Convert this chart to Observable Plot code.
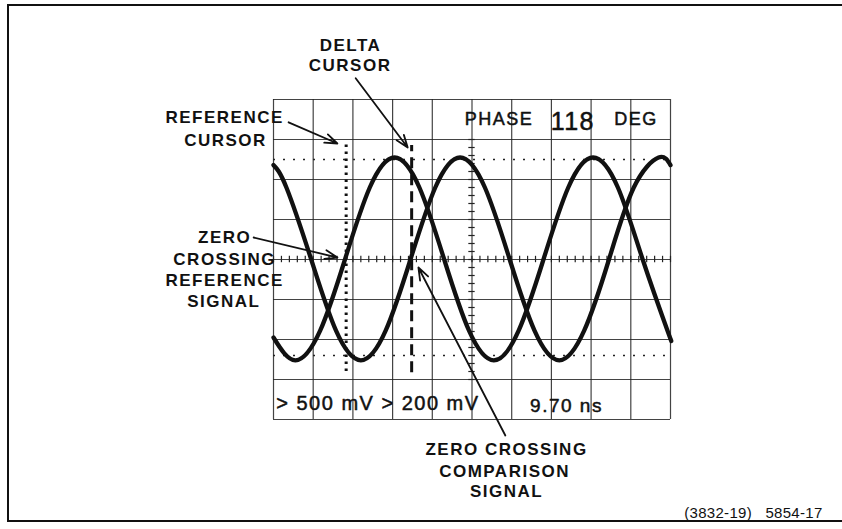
<!DOCTYPE html>
<html><head><meta charset="utf-8">
<script src="https://cdn.jsdelivr.net/npm/d3@7"></script>
<script src="https://cdn.jsdelivr.net/npm/@observablehq/plot@0.6"></script>
<style>
html,body{margin:0;padding:0;background:#fff;overflow:hidden}
#wrap{position:relative;width:842px;height:529px}
#border{position:absolute;left:7px;top:4px;width:840px;height:514px;border-left:2px solid #111;border-top:2px solid #111;border-bottom:2px solid #111}
#chart{position:absolute;left:0;top:0}
#chart svg text{letter-spacing:1.5px}
</style></head><body>
<div id="wrap"><div id="border"></div><div id="chart"></div></div>
<script>
// graticule divisions (10 x 8)
const xDivisions = [0,1,2,3,4,5,6,7,8,9,10];
const yDivisions = [-4,-3,-2,-1,0,1,2,3,4];
// reference signal trace (time div, volts div)
const refTime  = [0, 0.55, 1.175, 1.80, 2.425, 3.05, 3.675, 4.30, 4.925, 5.55, 6.175, 6.80, 7.425, 8.05, 8.675, 9.30, 9.925, 10];
const refVolts = [-1.95, -2.52, -1.78, 0, 1.80, 2.55, 1.80, 0, -1.78, -2.52, -1.78, 0, 1.80, 2.55, 1.80, 0, -1.78, -1.98];
// comparison signal trace
const cmpTime  = [0, 0.325, 0.95, 1.575, 2.20, 2.825, 3.45, 4.075, 4.70, 5.325, 5.95, 6.575, 7.20, 7.825, 8.45, 9.075, 9.70, 10];
const cmpVolts = [2.36, 1.80, 0, -1.78, -2.52, -1.78, 0, 1.80, 2.55, 1.80, 0, -1.78, -2.52, -1.78, 0, 1.80, 2.55, 2.36];
// cursors and level lines
const refCursor = 1.83, deltaCursor = 3.48;
const levelLines = [2.5, -2.4];
// readouts
const phaseLabel = "PHASE", phaseValue = "118", phaseUnit = "DEG";
const scaleReadout = "> 500 mV > 200 mV";
const timeReadout = "9.70 ns";
const caption = "(3832-19)\u00a0\u00a0\u00a05854-17";
// callout labels (x, y in divisions) and arrows
const calloutText = ["DELTA","CURSOR","REFERENCE","CURSOR","ZERO","CROSSING","REFERENCE","SIGNAL","ZERO CROSSING","COMPARISON","SIGNAL"];
const calloutX = [1.94, 1.93, -1.23, -1.21, -1.23, -1.23, -1.23, -1.25, 5.87, 5.82, 5.87];
const calloutY = [5.36, 4.84, 3.56, 2.98, 0.56, 0.01, -0.525, -1.04, -4.76, -5.29, -5.81];
const arrowX1 = [2.07, 0.38, -0.50, 5.84];
const arrowY1 = [4.53, 3.43, 0.55, -4.40];
const arrowX2 = [3.38, 1.61, 1.61, 3.65];
const arrowY2 = [2.80, 2.90, 0.05, -0.20];

const refData = refTime.map((t, i) => ({t, v: refVolts[i]}));
const cmpData = cmpTime.map((t, i) => ({t, v: cmpVolts[i]}));
const callouts = calloutText.map((text, i) => ({text, x: calloutX[i], y: calloutY[i]}));
const arrows = arrowX1.map((x1, i) => ({x1, y1: arrowY1[i], x2: arrowX2[i], y2: arrowY2[i]}));
const minorX = d3.range(0, 10.001, 0.2);
const minorY = d3.range(-3, 3.001, 0.2);
const ink = "#111";
const readoutStyle = {fill: ink, stroke: ink, strokeWidth: 0.5};

const plot = Plot.plot({
  width: 842, height: 529,
  marginLeft: 273, marginRight: 172, marginTop: 99, marginBottom: 110,
  x: {domain: [0, 10], axis: null},
  y: {domain: [-4, 4], axis: null},
  style: {fontFamily: "'Liberation Sans', Arial, sans-serif", background: "transparent", color: ink},
  marks: [
    Plot.ruleX(xDivisions, {stroke: "#222", strokeWidth: 1.2, strokeOpacity: 0.85}),
    Plot.ruleY(yDivisions, {stroke: "#222", strokeWidth: 1.2, strokeOpacity: 0.85}),
    Plot.ruleX(minorX, {y1: -0.08, y2: 0.08, stroke: "#222", strokeWidth: 1.2}),
    Plot.ruleY(minorY, {x1: 4.92, x2: 5.08, stroke: "#222", strokeWidth: 1.2}),
    Plot.ruleY(levelLines, {stroke: "#222", strokeWidth: 1.5, strokeDasharray: "2,8"}),
    Plot.ruleX([refCursor], {y1: -2.8, y2: 2.9, stroke: ink, strokeWidth: 3, strokeDasharray: "2.5,4.5"}),
    Plot.ruleX([deltaCursor], {y1: -2.83, y2: 2.85, stroke: ink, strokeWidth: 3, strokeDasharray: "11,6"}),
    Plot.line(refData, {x: "t", y: "v", curve: "natural", stroke: ink, strokeWidth: 4.3}),
    Plot.line(cmpData, {x: "t", y: "v", curve: "natural", stroke: ink, strokeWidth: 4.3}),
    Plot.arrow(arrows, {x1: "x1", y1: "y1", x2: "x2", y2: "y2", stroke: ink, strokeWidth: 1.8, headLength: 11, headAngle: 40}),
    Plot.text(callouts, {x: "x", y: "y", text: "text", fontSize: 17, fontWeight: "bold", fill: ink}),
    Plot.text([phaseLabel], {x: 5.68, y: 3.51, text: d => d, fontSize: 18, ...readoutStyle}),
    Plot.text([phaseValue], {x: 7.54, y: 3.45, text: d => d, fontSize: 25, ...readoutStyle}),
    Plot.text([phaseUnit], {x: 9.13, y: 3.51, text: d => d, fontSize: 18, ...readoutStyle}),
    Plot.text([scaleReadout], {x: 2.63, y: -3.6, text: d => d, fontSize: 20, ...readoutStyle}),
    Plot.text([timeReadout], {x: 7.38, y: -3.65, text: d => d, fontSize: 19, ...readoutStyle}),
    Plot.text([caption], {x: 13.83, y: -6.35, text: d => d, fontSize: 15, textAnchor: "end", fill: ink})
  ]
});
d3.select(plot).selectAll("text").each(function () {
  if (this.textContent === caption) this.style.letterSpacing = "0.3px";
});
document.getElementById("chart").appendChild(plot);
</script>
</body></html>
